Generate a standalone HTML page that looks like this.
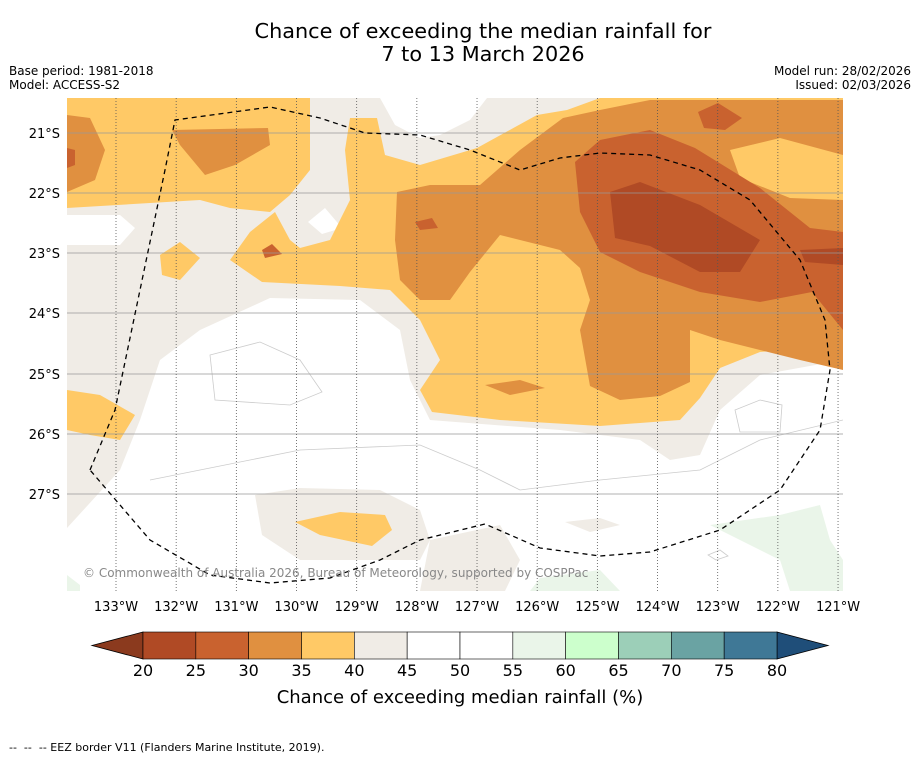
<!DOCTYPE html>
<html><head><meta charset="utf-8"><style>
body{margin:0;background:#fff;font-family:"Liberation Sans","DejaVu Sans",sans-serif;}
svg text{font-family:"DejaVu Sans","Liberation Sans",sans-serif;}
</style></head><body>
<svg width="919" height="758" xmlns="http://www.w3.org/2000/svg">
<text x="483" y="38" font-size="20.8" text-anchor="middle">Chance of exceeding the median rainfall for</text>
<text x="483" y="61" font-size="20.8" text-anchor="middle">7 to 13 March 2026</text>
<text x="9" y="75" font-size="12">Base period: 1981-2018</text>
<text x="9" y="89" font-size="12">Model: ACCESS-S2</text>
<text x="911" y="75" font-size="12" text-anchor="end">Model run: 28/02/2026</text>
<text x="911" y="89" font-size="12" text-anchor="end">Issued: 02/03/2026</text>
<defs><clipPath id="mc"><rect x="67" y="98" width="776" height="493"/></clipPath></defs>
<g clip-path="url(#mc)">
<rect x="67" y="98" width="776" height="493" fill="#fff"/>
<path fill="#f0ece6" d="M67,98H843V360L760,375 720,410 700,455 670,460 640,440 560,430 430,420 410,380 400,330 360,300 270,298 200,330 160,360 140,420 120,470 67,528Z"/>
<path fill="#fff" d="M67,215H120L135,228 120,245H67Z M308,222L325,208 342,228 322,234Z M505,285L550,282 548,335 510,332Z M380,98H487L470,120 440,135 420,138 395,125Z"/>
<path fill="#f0ece6" d="M255,495L300,488 380,490 420,510 430,540 420,560 300,560 262,535Z M430,540L500,525 520,560 505,591H420Z M565,522L600,518 620,525 590,532Z"/>
<path fill="#eaf5e9" d="M710,525L780,515 820,505 830,540 843,560V591H790L780,560 740,540Z M67,575L80,585V591H67Z M540,578L600,570 620,591H530Z"/>
<g fill="none" stroke="#ccc" stroke-width="0.8">
<path d="M210,355L260,342 300,360 322,392 290,405 215,400Z"/>
<path d="M150,480L300,450 420,445 480,470 520,490 600,480 700,470 760,440 843,420"/>
<path d="M735,410L760,400 782,405 780,432 740,432Z"/>
<path d="M708,555L720,550 728,556 716,560Z"/>
</g>
<path fill="#ffc966" d="M67,98H310V170L290,195 270,212 230,208 200,200 67,208Z M350,118L377,118 385,155 420,165 477,148 537,115 567,110 600,98H843V345L760,352 720,368 700,398 680,420 600,426 500,420 432,412 420,390 440,360 420,320 390,290 340,286 262,282 230,260 250,232 275,212 290,240 300,248 330,240 350,200 345,150Z"/>
<path fill="#ffc966" d="M160,255L180,242 200,258 180,280 162,275Z M67,390L100,395 135,415 120,440 90,435 67,430Z M295,522L340,512 385,515 392,530 372,546 320,535Z"/>
<path fill="#e09040" d="M397,192L430,185 480,185 520,150 563,118 600,110 650,100H843V370L800,360 720,340 690,330 690,382 660,396 620,400 590,386 580,330 590,300 580,268 560,250 500,235 470,272 450,300 420,300 400,280 395,240Z M67,115L90,118 105,150 95,180 67,192Z M172,130L268,128 270,145 235,165 205,175 180,145Z M485,385L520,380 545,388 510,395Z"/>
<path fill="#ffc966" d="M730,150L780,138 843,155V200L790,198 740,178Z"/>
<path fill="#c9622f" d="M575,162L600,140 650,130 695,148 760,188 810,228 843,232V330L812,292 760,302 700,292 640,272 600,252 580,212Z M698,112L718,103 742,118 725,130 704,128Z M67,148L75,150 75,165 67,168Z M415,222L432,218 438,228 420,230Z M262,250L272,244 282,254 265,258Z"/>
<path fill="#b04a25" d="M610,192L640,182 700,205 760,240 740,272 700,272 650,246 615,238Z M800,250L843,248V265L805,262Z"/>
<g stroke="#999" stroke-width="0.8">
<line x1="67" x2="843" y1="133" y2="133"/><line x1="67" x2="843" y1="193" y2="193"/><line x1="67" x2="843" y1="253" y2="253"/><line x1="67" x2="843" y1="313" y2="313"/><line x1="67" x2="843" y1="374" y2="374"/><line x1="67" x2="843" y1="434" y2="434"/><line x1="67" x2="843" y1="494" y2="494"/></g>
<g stroke="#555" stroke-width="0.8" stroke-dasharray="1,2" id="lon"></g>
<path fill="none" stroke="#000" stroke-width="1.3" stroke-dasharray="5,4" d="M90,470L115,410 140,290 165,170 175,120 270,107 320,118 365,133 420,135 470,150 520,170 560,158 600,153 650,155 700,170 750,200 800,260 825,320 830,370 820,430 780,490 720,530 650,552 600,556 540,548 485,524 420,540 380,560 330,578 270,583 210,575 150,540Z"/>
<text x="83" y="577" font-size="12" fill="#888">© Commonwealth of Australia 2026, Bureau of Meteorology, supported by COSPPac</text>
</g>
<g font-size="13">
<text x="60" y="138" text-anchor="end">21°S</text><text x="60" y="198" text-anchor="end">22°S</text><text x="60" y="258" text-anchor="end">23°S</text><text x="60" y="318" text-anchor="end">24°S</text><text x="60" y="379" text-anchor="end">25°S</text><text x="60" y="439" text-anchor="end">26°S</text><text x="60" y="499" text-anchor="end">27°S</text></g>
<g id="lonlab" font-size="13"></g>
<g id="cbar"></g>
<text x="460" y="703" font-size="18" text-anchor="middle">Chance of exceeding median rainfall (%)</text>
<text x="9" y="751" font-size="11" xml:space="preserve">--  --  -- EEZ border V11 (Flanders Marine Institute, 2019).</text>
</svg>
<script>
const lonTicks=[133,132,131,130,129,128,127,126,125,124,123,122,121];
const levels=[20,25,30,35,40,45,50,55,60,65,70,75,80];
const colors=['#b04a25','#c9622f','#e09040','#ffc966','#f0ece6','#ffffff','#ffffff','#eaf5e9','#ccffcc','#9ccfb8','#6aa3a3','#3f7896'];
const NS='http://www.w3.org/2000/svg';
const lonX=l=>116+(133-l)*60.17;
const lg=document.getElementById('lon'),ll=document.getElementById('lonlab');
lonTicks.forEach(l=>{const x=lonX(l);
const ln=document.createElementNS(NS,'line');ln.setAttribute('x1',x);ln.setAttribute('x2',x);ln.setAttribute('y1',98);ln.setAttribute('y2',591);

lg.appendChild(ln);
const t=document.createElementNS(NS,'text');t.setAttribute('x',x);t.setAttribute('y',611);t.setAttribute('text-anchor','middle');t.textContent=l+'°W';

ll.appendChild(t);});
const cb=document.getElementById('cbar');
const cx=v=>143+(v-20)*(634/60);
const y0=632,h=27;
function el(tag,at){const e=document.createElementNS(NS,tag);for(const k in at)e.setAttribute(k,at[k]);cb.appendChild(e);return e;}
const lt=el('polygon',{points:`${cx(20)},${y0} 92,${y0+h/2} ${cx(20)},${y0+h}`,fill:'#8b3a1e',stroke:'#000','stroke-width':0.8});


const rt=el('polygon',{points:`${cx(80)},${y0} 828,${y0+h/2} ${cx(80)},${y0+h}`,fill:'#1f4e79',stroke:'#000','stroke-width':0.8});


colors.forEach((c,i)=>{const r=el('rect',{x:cx(levels[i]),y:y0,width:cx(levels[i+1])-cx(levels[i]),height:h,fill:c,stroke:'#000','stroke-width':0.6});

});
levels.forEach(v=>{const t=el('text',{x:cx(v),y:676,'font-size':16,'text-anchor':'middle'});t.textContent=v;

});
</script>
</body></html>
